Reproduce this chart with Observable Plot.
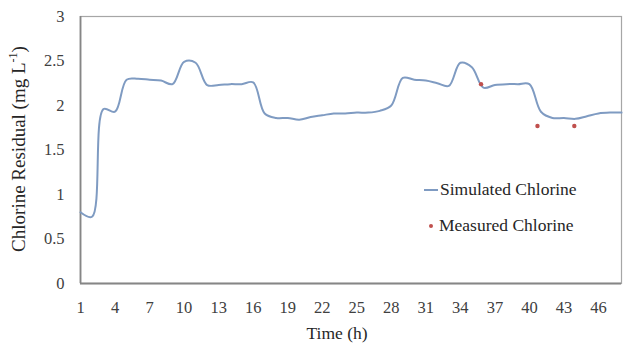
<!DOCTYPE html>
<html>
<head>
<meta charset="utf-8">
<script src="https://cdn.jsdelivr.net/npm/d3@7"></script>
<script src="https://cdn.jsdelivr.net/npm/@observablehq/plot@0.6"></script>
<style>
  html, body { margin: 0; padding: 0; background: #fff; }
  #wrap { position: relative; width: 624px; height: 345px; font-family: "Times New Roman", Tinos, "Liberation Serif", "DejaVu Serif", serif; color: #262626; }
  #wrap svg { position: absolute; left: 0; top: 0; }
  .ylab { position: absolute; left: 18px; top: 149px; transform: translate(-50%, -50%) rotate(-90deg); white-space: nowrap; font-size: 19px; }
  .xlab { position: absolute; left: 337px; top: 333px; transform: translate(-50%, -50%); white-space: nowrap; font-size: 17.5px; }
  .leg { position: absolute; font-size: 17.5px; white-space: nowrap; }
  .sw-line { display: inline-block; width: 14px; height: 2px; background: #7f9bc2; vertical-align: middle; margin-right: 2px; position: relative; top: -1px; }
  .sw-dot { display: inline-block; width: 4px; height: 4px; border-radius: 50%; background: #c0504d; vertical-align: middle; margin: 0 6px 0 5px; position: relative; top: -1px; }
</style>
</head>
<body>
<div id="wrap">
  <div class="ylab">Chlorine Residual (mg L<sup style="font-size:12px">-1</sup>)</div>
  <div class="xlab">Time (h)</div>
  <div class="leg" style="left:424px; top:179px;"><span class="sw-line"></span>Simulated Chlorine</div>
  <div class="leg" style="left:424px; top:215px;"><span class="sw-dot"></span>Measured Chlorine</div>
</div>
<script>
// Simulated chlorine (hourly, t = 1..48)
const simHours = d3.range(1, 49);
const simValues = [
  0.80, 0.75, 1.96, 1.93, 2.29, 2.30, 2.29, 2.28, 2.24, 2.49,
  2.48, 2.23, 2.23, 2.24, 2.24, 2.26, 1.91, 1.86, 1.86, 1.84,
  1.87, 1.89, 1.91, 1.91, 1.92, 1.92, 1.94, 2.00, 2.31, 2.29,
  2.28, 2.25, 2.22, 2.48, 2.43, 2.20, 2.23, 2.24, 2.24, 2.24,
  1.93, 1.86, 1.86, 1.85, 1.88, 1.91, 1.92, 1.92
];
// Measured chlorine
const measHours = [35.8, 40.7, 43.9];
const measValues = [2.24, 1.77, 1.77];
// Axis ticks
const xTicks = [1, 4, 7, 10, 13, 16, 19, 22, 25, 28, 31, 34, 37, 40, 43, 46];
const yTicks = [0, 0.5, 1, 1.5, 2, 2.5, 3];

const sim = simHours.map((t, i) => ({t, v: simValues[i]}));
const meas = measHours.map((t, i) => ({t, v: measValues[i]}));

const chart = Plot.plot({
  width: 624,
  height: 345,
  marginLeft: 80,
  marginRight: 3,
  marginTop: 16,
  marginBottom: 62,
  style: { fontFamily: "'Times New Roman', Tinos, 'Liberation Serif', 'DejaVu Serif', serif", fontSize: "16.5px", color: "#404040", background: "transparent" },
  x: { domain: [1, 48], ticks: xTicks, tickSize: 0, tickPadding: 18, label: null, tickFormat: d => String(d) },
  y: { domain: [0, 3], ticks: yTicks, tickSize: 0, tickPadding: 16, label: null, tickFormat: d => String(d) },
  marks: [
    Plot.frame({ stroke: "#a6a6a6", strokeWidth: 1.2 }),
    Plot.ruleY([0], { stroke: "#868686", strokeWidth: 1.8 }),
    Plot.ruleX([1], { stroke: "#868686", strokeWidth: 1.8 }),
    Plot.line(sim, { x: "t", y: "v", stroke: "#7f9bc2", strokeWidth: 2, curve: "catmull-rom" }),
    Plot.dot(meas, { x: "t", y: "v", r: 2.2, fill: "#c0504d", stroke: "none" })
  ]
});
document.getElementById("wrap").prepend(chart);
</script>
</body>
</html>
